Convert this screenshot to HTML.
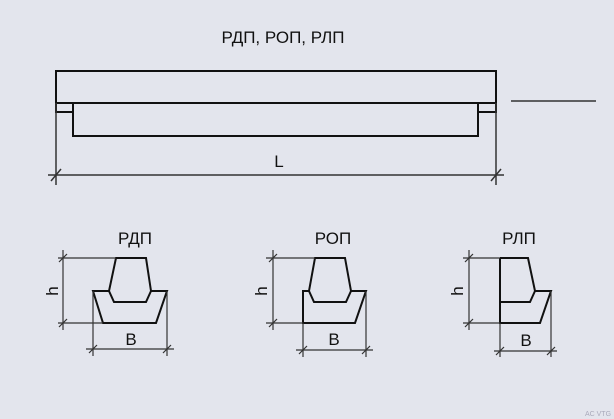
<!DOCTYPE html>
<html><head><meta charset="utf-8"><style>
html,body{margin:0;padding:0;background:#e3e5ed;}
svg{display:block}
text{font-family:"Liberation Sans",sans-serif;fill:#111}
</style></head><body>
<svg width="614" height="419" viewBox="0 0 614 419" xmlns="http://www.w3.org/2000/svg">
<rect width="614" height="419" fill="#e3e5ed"/>
<g stroke="#111" stroke-width="2" fill="none">
<!-- beam -->
<rect x="56" y="71" width="440" height="32"/>
<rect x="56" y="103" width="17" height="9"/>
<rect x="478" y="103" width="18" height="9"/>
<polyline points="73,112 73,136 478,136 478,112"/>
</g>
<g stroke="#333" stroke-width="1.5" fill="none">
<line x1="56" y1="103" x2="56" y2="185"/>
<line x1="496" y1="103" x2="496" y2="185"/>
<line x1="48" y1="175" x2="504" y2="175"/>
<line x1="51" y1="181" x2="61" y2="169"/>
<line x1="491" y1="181" x2="501" y2="169"/>
<line x1="511" y1="101" x2="596" y2="101"/>
</g>
<text x="283" y="43" font-size="17" text-anchor="middle">РДП, РОП, РЛП</text>
<text x="279" y="167" font-size="17" text-anchor="middle">L</text>

<!-- РДП -->
<g stroke="#111" stroke-width="2" fill="#e3e5ed">
<polygon points="93,291 167,291 156,323 103,323"/>
<polygon points="116,258 146,258 151,291 146,302 114,302 109,291"/>
</g>
<g stroke="#333" stroke-width="1.2" fill="none">
<line x1="63" y1="250" x2="63" y2="330"/>
<line x1="58" y1="258" x2="116" y2="258"/>
<line x1="58" y1="323" x2="103" y2="323"/>
<line x1="93" y1="291" x2="93" y2="356"/>
<line x1="167" y1="291" x2="167" y2="356"/>
<line x1="86" y1="349" x2="174" y2="349"/>
<line x1="59" y1="262" x2="67" y2="254"/>
<line x1="59" y1="327" x2="67" y2="319"/>
<line x1="89" y1="353" x2="97" y2="345"/>
<line x1="163" y1="353" x2="171" y2="345"/>
</g>
<text x="135" y="244" font-size="17" text-anchor="middle">РДП</text>
<text x="131" y="345" font-size="17" text-anchor="middle">B</text>
<text transform="translate(58,291) rotate(-90)" font-size="17" text-anchor="middle">h</text>

<!-- РОП -->
<g stroke="#111" stroke-width="2" fill="#e3e5ed">
<polygon points="303,291 366,291 355,323 303,323"/>
<polygon points="315,258 345,258 351,291 346,302 314,302 309,291"/>
</g>
<g stroke="#333" stroke-width="1.2" fill="none">
<line x1="273" y1="250" x2="273" y2="330"/>
<line x1="266" y1="258" x2="315" y2="258"/>
<line x1="266" y1="323" x2="303" y2="323"/>
<line x1="303" y1="323" x2="303" y2="357"/>
<line x1="366" y1="291" x2="366" y2="357"/>
<line x1="296" y1="350" x2="373" y2="350"/>
<line x1="269" y1="262" x2="277" y2="254"/>
<line x1="269" y1="327" x2="277" y2="319"/>
<line x1="299" y1="354" x2="307" y2="346"/>
<line x1="362" y1="354" x2="370" y2="346"/>
</g>
<text x="333" y="244" font-size="17" text-anchor="middle">РОП</text>
<text x="334" y="345" font-size="17" text-anchor="middle">B</text>
<text transform="translate(267,291) rotate(-90)" font-size="17" text-anchor="middle">h</text>

<!-- РЛП -->
<g stroke="#111" stroke-width="2" fill="none">
<polyline points="500,258 528,258 535,291 551,291 540,323 500,323 500,258"/>
<polyline points="535,291 530,302 500,302"/>
</g>
<g stroke="#333" stroke-width="1.2" fill="none">
<line x1="469" y1="250" x2="469" y2="330"/>
<line x1="463" y1="258" x2="500" y2="258"/>
<line x1="463" y1="323" x2="500" y2="323"/>
<line x1="500" y1="323" x2="500" y2="357"/>
<line x1="551" y1="291" x2="551" y2="357"/>
<line x1="494" y1="351" x2="557" y2="351"/>
<line x1="465" y1="262" x2="473" y2="254"/>
<line x1="465" y1="327" x2="473" y2="319"/>
<line x1="496" y1="355" x2="504" y2="347"/>
<line x1="547" y1="355" x2="555" y2="347"/>
</g>
<text x="519" y="244" font-size="17" text-anchor="middle">РЛП</text>
<text x="526" y="346" font-size="17" text-anchor="middle">B</text>
<text transform="translate(463,291) rotate(-90)" font-size="17" text-anchor="middle">h</text>
<text x="598" y="416" font-size="7" fill="#aaa" text-anchor="middle" style="fill:#aab">AC VTG</text>
</svg>
</body></html>
